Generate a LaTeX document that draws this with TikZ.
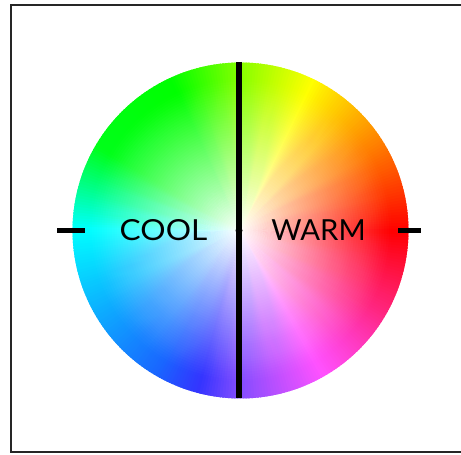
\documentclass[tikz,border=0pt]{standalone}
\usepackage{fontspec}
\setmainfont{Lato}
\tikzset{
  bar/.style={line width=5.5pt*0.5, black},
  lbl/.style={font=\fontsize{14.5}{16}\selectfont, text=black, inner sep=0pt},
  frame/.style={draw=black!85, line width=1pt}
}
\begin{document}
\begin{tikzpicture}[x=0.5pt,y=0.5pt]
\useasboundingbox (0,0) rectangle (461,455);
\clip (0,0) rectangle (461,455);
\fill[white] (0,0) rectangle (461,455);
\draw[frame] (10.5,2.5) rectangle (475,449.5);
\coordinate (C) at (240.5,224.5);
% hue wedges: angle / hue / saturation at segment start and end
\foreach \aS/\hS/\sS/\aE/\hE/\sE in {0/0/1/60/55/1, 60/55/1/90/88/1, 90/88/1/115/120/1, 115/120/1/150/126/1, 150/126/1/180/180/1, 180/180/1/240/220/0.9, 240/220/0.9/270/258/0.7, 270/258/0.7/300/300/0.68, 300/300/0.68/330/335/0.85, 330/335/0.85/360/360/1}{
  \pgfmathtruncatemacro{\nn}{\aE-\aS-1}
  \foreach \k in {0,...,\nn}{
    \pgfmathsetmacro{\aa}{\aS+\k}
    \pgfmathsetmacro{\tt}{(\k+0.5)/(\aE-\aS)}
    \pgfmathsetmacro{\hh}{\hS+(\hE-\hS)*\tt}
    \pgfmathsetmacro{\ss}{\sS+(\sE-\sS)*\tt}
    \definecolor{huecol}{Hsb}{\hh,\ss,1}
    \fill[huecol] (C) -- ++(\aa-0.3:168) arc[start angle=\aa-0.3, end angle=\aa+1.3, radius=168] -- cycle;
  }
}
% white centre: stacked discs giving a linear fade to 0.9 r
\def\NN{60}
\foreach \i in {\NN,...,1}{
  \pgfmathsetmacro{\rr}{0.9*168*\i/\NN}
  \pgfmathsetmacro{\op}{ifthenelse(\i==\NN, 0.5/\NN, 1/(\i+0.5))}
  \fill[white, fill opacity=\op] (C) circle[radius=\rr];
}
% axis
\coordinate (top) at (239,393);
\coordinate (bot) at (239,57);
\coordinate (lt1) at (57,224.5);
\coordinate (lt2) at (85,224.5);
\coordinate (rt1) at (398,224.5);
\coordinate (rt2) at (421,224.5);
\draw[bar] (top) -- (bot);
\draw[bar] (lt1) -- (lt2);
\draw[bar] (rt1) -- (rt2);
\fill[black] (239,224.5) circle[radius=3.5];
\node[lbl] (cool) at (163.5,224.5) {\scalebox{1.09}[1]{COOL}};
\node[lbl] (warm) at (318.5,224.5) {\scalebox{1.01}[1]{WARM}};
\end{tikzpicture}
\end{document}
